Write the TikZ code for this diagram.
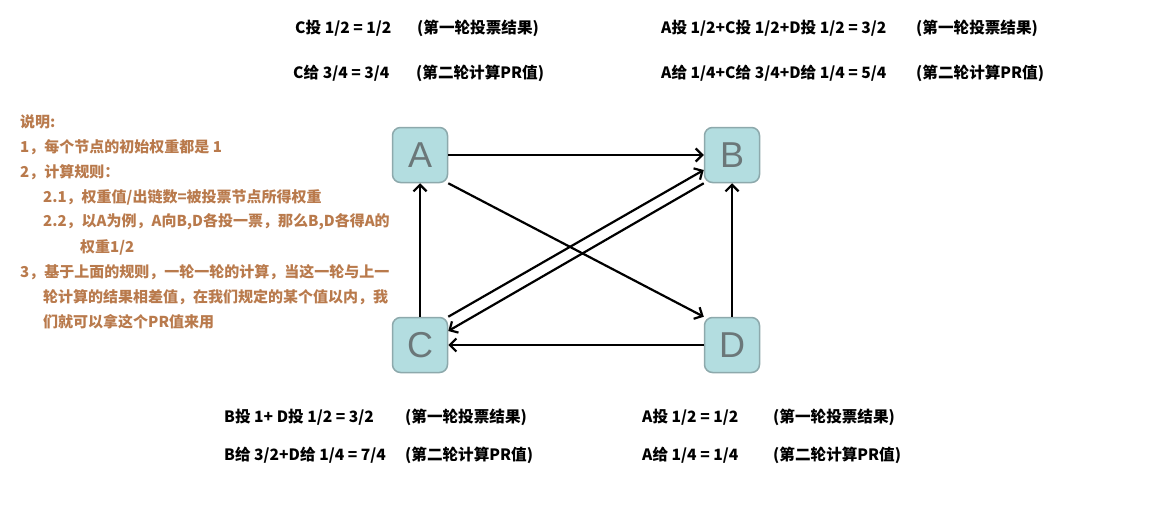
\documentclass[tikz,border=0pt]{standalone}
\usepackage{fontspec}
\usetikzlibrary{arrows.meta,calc}
\newfontfamily\cjk{Noto Sans CJK SC}
\newfontfamily\lettersans{Liberation Sans}
\definecolor{boxfill}{HTML}{B3DDE0}
\definecolor{boxline}{HTML}{8DA9AC}
\definecolor{lettercol}{HTML}{6B7779}
\definecolor{notecol}{HTML}{B97A4C}
\tikzset{
  vbox/.style={rectangle, rounded corners=8pt, minimum width=55pt, minimum height=55pt,
    fill=boxfill, draw=boxline, line width=1.5pt, inner sep=0pt,
    font=\lettersans\fontsize{36}{36}\selectfont, text=lettercol},
  link/.style={line width=2.2pt, -{Straight Barb[length=6.5pt,width=13pt]}},
  note/.style={anchor=west, inner sep=0pt, text=notecol, font=\cjk\bfseries\fontsize{15}{15}\selectfont},
  calc/.style={anchor=west, inner sep=0pt, text=black, font=\cjk\bfseries\fontsize{15.6}{16}\selectfont}
}
\begin{document}
\begin{tikzpicture}[x=1pt,y=-1pt]
\useasboundingbox (0,0) rectangle (1169,511);
\fill[white] (0,0) rectangle (1169,511);

% nodes
\node[vbox] (A) at (420,155) {A};
\node[vbox] (B) at (732,155) {B};
\node[vbox] (C) at (420,345) {C};
\node[vbox] (D) at (732,345) {D};

% connectors
\draw[link] (A.east) -- (B.west);
\draw[link] (A.south east) -- (D.north west);
\draw[link] (C.north) -- (A.south);
\draw[link] (D.north) -- (B.south);
\draw[link] (D.west) -- (C.east);
\draw[link] (C.north east) -- ([yshift=-15pt]B.west);
\draw[link] (B.south west) -- ([yshift=14pt]C.east);

% notes
\node[note] (n0) at (20,122) {说明:};
\node[note] (n1) at (20,147) {1，每个节点的初始权重都是 1};
\node[note] (n2) at (20,172) {2，计算规则：};
\node[note] (n3) at (43,197) {2.1，权重值/出链数=被投票节点所得权重};
\node[note] (n4) at (43,222) {2.2，以A为例，A向B,D各投一票，那么B,D各得A的};
\node[note] (n5) at (80,247) {权重1/2};
\node[note] (n6) at (20,272) {3，基于上面的规则，一轮一轮的计算，当这一轮与上一};
\node[note] (n7) at (43,297) {轮计算的结果相差值，在我们规定的某个值以内，我};
\node[note] (n8) at (43,322) {们就可以拿这个PR值来用};

% top labels
\node[calc] (t1) at (295,28) {C投 1/2 = 1/2};
\node[calc] (t2) at (417,28) {(第一轮投票结果)};
\node[calc] (t3) at (293,73) {C给 3/4 = 3/4};
\node[calc] (t4) at (416,73) {(第二轮计算PR值)};
\node[calc] (t5) at (661,28) {A投 1/2+C投 1/2+D投 1/2 = 3/2};
\node[calc] (t6) at (916,28) {(第一轮投票结果)};
\node[calc] (t7) at (661,73) {A给 1/4+C给 3/4+D给 1/4 = 5/4};
\node[calc] (t8) at (916,73) {(第二轮计算PR值)};

% bottom labels
\node[calc] (b1) at (224,417) {B投 1+ D投 1/2 = 3/2};
\node[calc] (b2) at (405,417) {(第一轮投票结果)};
\node[calc] (b3) at (224,455) {B给 3/2+D给 1/4 = 7/4};
\node[calc] (b4) at (405,455) {(第二轮计算PR值)};
\node[calc] (b5) at (642,417) {A投 1/2 = 1/2};
\node[calc] (b6) at (773,417) {(第一轮投票结果)};
\node[calc] (b7) at (642,455) {A给 1/4 = 1/4};
\node[calc] (b8) at (773,455) {(第二轮计算PR值)};
\end{tikzpicture}
\end{document}
